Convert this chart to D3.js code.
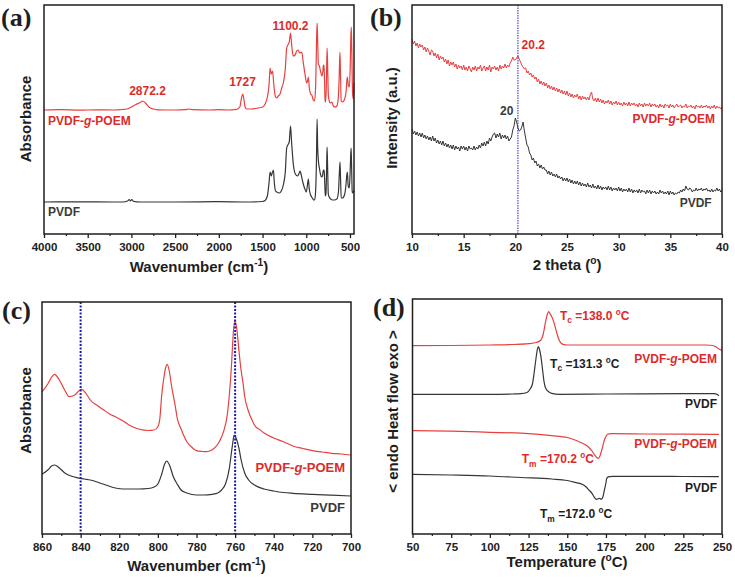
<!DOCTYPE html>
<html><head><meta charset="utf-8">
<script src="https://cdn.jsdelivr.net/npm/d3@7"></script>
<style>body{margin:0;background:#fff} svg{display:block}</style>
</head><body>
<svg id="c" width="735" height="579"></svg>
<script>
// ---------------- DATA ----------------
// (a) FTIR, full range: [wavenumber cm-1, absorbance (a.u., offset)]
const ftirPoem = [[4000,124],[3800,124.3],[3600,123.8],[3400,124.2],[3200,124],[3100,124.5],[3050,125],[3000,127],[2950,129.5],[2900,131.5],[2872,133],[2840,131],[2800,127],[2750,125],[2700,124.2],[2500,124],[2380,124.3],[2350,125],[2320,124.6],[2300,124.3],[2100,124],[2000,124.3],[1900,124],[1800,124.5],[1760,127],[1745,134],[1727,140],[1712,134],[1700,127],[1680,125],[1600,125.2],[1550,126],[1500,127],[1470,130],[1445,137],[1425,150],[1414,166],[1400,160],[1385,163],[1372,150],[1355,138],[1338,136],[1320,138],[1300,140],[1281,146],[1260,152],[1240,165],[1224,186],[1205,190],[1195,192],[1180,201],[1168,190],[1150,178],[1128,179],[1110,183],[1094,184],[1075,181],[1052,182],[1035,172],[1015,160],[995,151],[985,153],[976,157],[965,146],[950,140],[937,139],[919,134],[905,133],[892,150],[882,195],[876,211],[870,195],[862,170],[850,168],[835,162],[820,158],[810,163],[804,169],[798,168],[790,150],[785,132],[778,132],[770,150],[762,186],[756,170],[748,140],[740,134],[725,131],[708,132],[690,128],[670,127],[650,128],[635,135],[624,155],[615,182],[609,162],[600,133],[585,132],[565,134],[545,142],[535,154],[530,157],[518,148],[507,147],[498,165],[490,198],[485,207],[480,188],[470,140],[462,135],[454,151]];
const ftirPvdf = [[4000,32],[3600,32.2],[3200,32],[3100,32],[3045,33],[3025,34.5],[3012,33],[2995,34.5],[2975,32.5],[2900,32],[2500,32],[2000,32.3],[1700,32],[1500,32.5],[1470,33.5],[1445,38],[1425,52],[1414,62],[1400,58],[1390,61],[1376,64],[1366,52],[1352,43],[1338,42],[1310,41],[1285,43],[1260,50],[1240,62],[1224,86],[1205,90],[1195,92],[1180,108],[1168,92],[1147,69],[1125,60],[1100,58],[1085,60],[1071,63],[1060,60],[1040,52],[1020,46],[1000,42],[988,48],[976,55],[966,45],[950,39],[930,36],[915,34],[905,34],[895,40],[884,70],[876,115],[870,88],[862,74],[850,66],[838,60],[825,57],[815,58],[806,63],[800,64],[795,63],[789,52],[782,38],[775,40],[768,62],[762,87],[756,68],[748,40],[738,37],[720,35],[700,34],[680,34],[650,35],[632,42],[622,60],[614,72],[608,56],[600,36],[585,36],[560,40],[545,50],[535,60],[530,62],[520,48],[508,46],[500,58],[492,78],[487,86],[482,70],[474,42],[466,41],[458,43],[454,42]];
const ftirTicks = [4000,3500,3000,2500,2000,1500,1000,500];

// (b) XRD, 2 theta from 10 to 40 in 0.125 deg steps: intensity (a.u.)
const xrdStart = 10, xrdStep = 0.125;
const xrdPoem = [
  195,190,193,188,191,186,190,187, 189,184,187,182,186,183,179,184,
  183,178,181,176,180,174,178,175, 177,172,175,170,174,168,172,169,
  172,167,170,165,169,166,168,164, 169,164,167,163,168,165,162,167,
  164,168,163,167,165,169,163,166, 168,163,167,164,169,162,167,165,
  168,164,167,163,169,165,168,166, 170,166,169,167,171,173,177,174,
  174,176,178,175,172,169,167,165, 166,161,163,159,161,157,159,155,
  157,152,155,150,153,149,152,148, 151,146,149,145,148,144,147,143,
  146,142,145,141,144,140,143,139, 143,138,141,137,140,136,139,137,
  140,135,138,134,138,135,137,134, 137,134,139,142,135,133,136,132,
  136,132,135,131,134,130,133,131, 134,130,133,129,132,130,133,129,
  132,129,131,128,132,129,131,128, 132,128,131,129,131,128,130,127,
  131,128,130,127,131,128,130,128, 131,127,130,128,130,127,129,126,
  130,127,129,126,130,128,129,126, 130,127,129,126,128,130,127,128,
  129,126,128,127,130,126,128,127, 129,126,128,125,129,127,128,126,
  129,126,128,127,129,126,128,125, 128,126,129,125,128,126,127,125,
  127];
const xrdPvdf = [
  105,100,103,99,102,98,101,97, 101,96,99,95,98,94,97,93,
  98,93,96,91,94,90,93,89, 93,88,91,87,90,86,89,85,
  89,84,88,85,87,83,88,85, 88,84,87,83,88,85,86,84,
  88,84,87,85,89,86,91,88, 92,88,93,90,96,93,97,100,
  101,96,100,97,101,95,99,96, 99,95,98,93,95,97,104,108,
  116,112,106,103,104,107,112,103, 96,89,87,81,79,74,76,71,
  73,68,70,66,69,65,67,64, 64,60,63,59,62,58,60,57,
  60,56,58,55,57,53,56,53, 56,52,55,51,54,50,53,50,
  53,49,52,48,51,48,50,47, 51,47,49,46,50,46,48,45,
  49,45,48,44,47,45,47,44, 48,44,47,43,46,44,46,43,
  47,43,46,42,45,43,45,42, 46,42,45,41,44,42,44,41,
  45,41,44,42,43,40,44,41, 44,40,43,41,43,40,42,40,
  44,41,43,40,42,40,43,39, 43,40,42,39,41,40,42,41,
  44,42,45,43,48,45,44,46, 45,42,44,43,46,43,45,44,
  46,43,45,44,46,43,44,42, 45,42,44,43,46,43,45,42,
  44];
const xrdTicks = [10,15,20,25,30,35,40];
const xrdMarker = [20.25];

// (c) FTIR, 860-700 cm-1
const ftirZoomPoem = [[860,142],[857,150],[855,157],[853.5,159.7],[851,154],[848,143],[846,137.3],[843,139],[841,143],[839.5,144.7],[837,140],[835,134],[831,128],[828,124],[825,120],[822,117.3],[818,113],[815,109],[810,105],[805,103.5],[802,104],[800,107.3],[799,115],[798,139],[797,155],[796,166],[795.2,169.7],[794,162],[793,149],[791,128],[790,116],[788,105],[785,92.3],[782,86],[780,83.3],[777,82.5],[775,82.3],[772,84],[770,87.3],[768,93],[766,102.3],[764,120],[763,139],[762,165],[761,199],[760.2,214],[759,203],[758,183],[757,165],[756,152.3],[755,137],[753,122.3],[751,113],[750,109],[747,104],[745,101],[740,96],[735,92.3],[730,88],[725,85.5],[720,83.3],[715,82],[710,80.7],[705,80],[700,79]];
const ftirZoomPvdf = [[860,59.7],[857,64],[855,68],[853.5,69],[851,66],[848,60.7],[845,58],[842,56.3],[838,55],[835,54],[830,51],[827,49],[822,46],[818,45],[810,45],[805,45.5],[802,47],[800,50],[798,60],[796.5,70],[795.5,73],[794,69],[792,57.3],[790,50],[788,44],[785,41],[780,39],[776,39],[772,39.7],[769,41],[767,44],[765,50],[763,65.7],[762,80],[761,94],[760.5,99],[759.5,96],[758,85.7],[757,75],[755,60.7],[753,54],[750,49],[745,45],[740,43],[735,41.5],[730,40.7],[720,39.7],[710,38.8],[700,38]];
const ftirZoomTicks = [860,840,820,800,780,760,740,720,700];
const ftirZoomMarkers = [840,760];

// (d) DSC: [temperature C, heat flow (a.u., offset)]
const dscCoolPoem = [[50,188.3],[75,188.5],[100,189],[115,189.5],[125,190.3],[130,191.5],[133,194],[134.5,200],[136,212.3],[137,219],[138,222.3],[139,220],[140,217.3],[141.5,211],[143,202.3],[144.5,195],[146,190.7],[148,189.3],[150,189],[175,189],[200,189],[225,189],[240,189],[244,188.5],[246,187.3],[248,185],[250,183.7]];
const dscCoolPvdf = [[50,139.7],[75,139.7],[100,139.7],[115,140],[120,140.3],[124,141.5],[126,145],[127.5,150],[128.5,160],[129.5,172],[130.5,183],[131.3,187.3],[132,185],[133,177.3],[134,165],[135,152.3],[136,146],[138,142.3],[140,140.7],[145,139.7],[175,140],[200,140.2],[225,140.3],[240,140.3],[245,140.3],[247,139.5],[248,138.3]];
const dscHeatPoem = [[50,103.3],[75,102.8],[100,101.7],[120,100.8],[140,98.3],[150,96.5],[155,94],[158,92],[162,89],[164,86.5],[166,83],[168,78.3],[169,76.5],[170,75.7],[171,77.5],[172,82.3],[173,88],[174,94],[175,97.5],[176,99.7],[178,100.3],[180,100.3],[200,100],[225,99.8],[248,99.7]];
const dscHeatPvdf = [[50,59.7],[75,59],[100,58],[120,56.5],[140,55],[150,53.5],[155,51.7],[160,49.5],[162,47.3],[164,44],[166,40.7],[167,38],[168,35.7],[169,34.7],[170,35.3],[171,35.7],[172,34.7],[173,37],[174,44],[175,51],[175.5,55.7],[177,57.3],[180,57.7],[200,57.7],[225,57.5],[248,57.3]];
const dscTicks = [50,75,100,125,150,175,200,225,250];

// ---------------- DRAWING ----------------
const svg = d3.select('#c');
const FONT = "'Liberation Sans', Arial, Helvetica, sans-serif";
const SERIF = "'Liberation Serif', 'Times New Roman', serif";
const RED = '#e8403f', RED_T = '#dc2b2b', BLK = '#363636', BLK_T = '#3a3a3a', AX = '#1e1e1e';

function mids(t) { const m = []; for (let i = 0; i < t.length - 1; i++) m.push((t[i] + t[i+1]) / 2); return m; }

function panel(o) {
  const x = d3.scaleLinear().domain(o.xd).range([o.l, o.r]);
  const y = d3.scaleLinear().domain(o.yd).range([o.b, o.t]);
  const g = svg.append('g');
  const ax = g.append('g').attr('transform', `translate(0,${o.b})`)
    .call(d3.axisBottom(x).tickValues(o.ticks).tickSize(4).tickFormat(d3.format('d')));
  ax.select('.domain').remove();
  ax.selectAll('line').attr('stroke', AX).attr('stroke-width', 1.3);
  ax.selectAll('text').attr('y', 17).attr('dy', 0).attr('font-family', FONT)
    .attr('font-weight', 'bold').attr('font-size', 11.5).attr('fill', '#222');
  const mx = g.append('g').attr('transform', `translate(0,${o.b})`)
    .call(d3.axisBottom(x).tickValues(mids(o.ticks)).tickSize(2).tickFormat(''));
  mx.select('.domain').remove();
  mx.selectAll('line').attr('stroke', AX).attr('stroke-width', 1.2);
  const plot = g.append('g');
  g.append('rect').attr('x', o.l).attr('y', o.t).attr('width', o.r - o.l).attr('height', o.b - o.t)
    .attr('fill', 'none').attr('stroke', AX).attr('stroke-width', 1.5);
  return { g, plot, x, y };
}

function rich(g, x, y, segs, o) {
  const t = g.append('text').attr('x', x).attr('y', y).attr('font-family', o.family || FONT)
    .attr('font-weight', 'bold').attr('font-size', o.size).attr('fill', o.fill || '#1e1e1e')
    .attr('text-anchor', o.anchor || 'start');
  if (o.rotate) t.attr('transform', `rotate(-90 ${x} ${y})`);
  let shift = 0;
  segs.forEach(s => {
    const txt = typeof s === 'string' ? s : s[0];
    const kind = typeof s === 'string' ? null : s[1];
    const ts = t.append('tspan').text(txt);
    let target = 0;
    if (kind === 'sup') { ts.attr('font-size', o.size * 0.68); target = -o.size * 0.42; }
    else if (kind === 'sub') { ts.attr('font-size', o.size * 0.7); target = o.size * 0.28; }
    else if (kind === 'it') { ts.attr('font-style', 'italic'); }
    const dy = target - shift;
    if (dy) ts.attr('dy', dy);
    shift = target;
  });
  return t;
}

function curve(p, data, color, lin, w) {
  const line = d3.line().x(d => p.x(d[0])).y(d => p.y(d[1]))
    .curve(lin ? d3.curveLinear : d3.curveMonotoneX);
  p.plot.append('path').datum(data).attr('d', line).attr('fill', 'none')
    .attr('stroke', color).attr('stroke-width', w || 1.2).attr('stroke-linejoin', 'round');
}

const POEM = ['PVDF-', ['g', 'it'], '-POEM'];

// ----- (a)
const A = panel({ l: 44, r: 354, t: 5, b: 234, xd: [4000, 454], yd: [0, 229], ticks: ftirTicks });
curve(A, ftirPoem, RED);
curve(A, ftirPvdf, BLK);
rich(A.g, A.x(2816), A.y(139), ['2872.2'], { size: 12, fill: RED_T, anchor: 'middle' });
rich(A.g, A.x(1729), A.y(148), ['1727'], { size: 12, fill: RED_T, anchor: 'middle' });
rich(A.g, A.x(1180), A.y(204), ['1100.2'], { size: 12, fill: RED_T, anchor: 'middle' });
rich(A.g, A.x(3954), A.y(109), POEM, { size: 12, fill: RED_T });
rich(A.g, A.x(3954), A.y(18), ['PVDF'], { size: 12, fill: BLK_T });
rich(svg, 199, 272, ['Wavenumber (cm', ['-1', 'sup'], ')'], { size: 15, anchor: 'middle' });
rich(svg, 31, 119, ['Absorbance'], { size: 15, anchor: 'middle', rotate: true });
rich(svg, 1, 26, ['(a)'], { size: 26, family: SERIF });

// ----- (b)
const B = panel({ l: 412, r: 722, t: 5, b: 234, xd: [10, 40], yd: [0, 229], ticks: xrdTicks });
const toPts = arr => arr.map((v, i) => [xrdStart + i * xrdStep, v]);
curve(B, toPts(xrdPoem), RED, true, 1);
curve(B, toPts(xrdPvdf), BLK, true, 1);
B.plot.selectAll('line.mk').data(xrdMarker).join('line').attr('class', 'mk')
  .attr('x1', d => B.x(d)).attr('x2', d => B.x(d)).attr('y1', 5).attr('y2', 234)
  .attr('stroke', '#3a3ac8').attr('stroke-width', 1.1).attr('stroke-dasharray', '1.5,1');
rich(B.g, B.x(20.6), B.y(185), ['20.2'], { size: 12, fill: RED_T });
rich(B.g, B.x(18.52), B.y(119), ['20'], { size: 12, fill: BLK_T });
rich(B.g, B.x(39.33), B.y(111.3), POEM, { size: 12, fill: RED_T, anchor: 'end' });
rich(B.g, B.x(39.0), B.y(27), ['PVDF'], { size: 12, fill: BLK_T, anchor: 'end' });
rich(svg, 567, 270, ['2 theta (', ['o', 'sup'], ')'], { size: 15, anchor: 'middle' });
rich(svg, 397, 118, ['Intensity (a.u.)'], { size: 15, anchor: 'middle', rotate: true });
rich(svg, 370, 26, ['(b)'], { size: 26, family: SERIF });

// ----- (c)
const C = panel({ l: 42, r: 351, t: 302, b: 534, xd: [860, 700], yd: [0, 232], ticks: ftirZoomTicks });
curve(C, ftirZoomPoem, RED);
curve(C, ftirZoomPvdf, BLK);
C.plot.selectAll('line.mk').data(ftirZoomMarkers).join('line').attr('class', 'mk')
  .attr('x1', d => C.x(d)).attr('x2', d => C.x(d)).attr('y1', 302).attr('y2', 534)
  .attr('stroke', '#1c1ca0').attr('stroke-width', 2).attr('stroke-dasharray', '2,1.5');
rich(C.g, C.x(703.1), C.y(62.3), POEM, { size: 13, fill: RED_T, anchor: 'end' });
rich(C.g, C.x(703.1), C.y(22.3), ['PVDF'], { size: 13, fill: BLK_T, anchor: 'end' });
rich(svg, 196.5, 571, ['Wavenumber (cm', ['-1', 'sup'], ')'], { size: 15, anchor: 'middle' });
rich(svg, 31, 410.5, ['Absorbance'], { size: 15, anchor: 'middle', rotate: true });
rich(svg, 2, 319, ['(c)'], { size: 26, family: SERIF });

// ----- (d)
const D = panel({ l: 412.5, r: 722, t: 299, b: 534, xd: [50, 250], yd: [0, 235], ticks: dscTicks });
curve(D, dscCoolPoem, RED);
curve(D, dscCoolPvdf, BLK);
curve(D, dscHeatPoem, RED);
curve(D, dscHeatPvdf, BLK);
rich(D.g, D.x(145.3), D.y(214), ['T', ['c', 'sub'], ' =138.0 ', ['o', 'sup'], 'C'], { size: 12, fill: RED_T });
rich(D.g, D.x(246.8), D.y(171), POEM, { size: 12, fill: RED_T, anchor: 'end' });
rich(D.g, D.x(138.9), D.y(166), ['T', ['c', 'sub'], ' =131.3 ', ['o', 'sup'], 'C'], { size: 12, fill: '#1e1e1e' });
rich(D.g, D.x(246.8), D.y(126.3), ['PVDF'], { size: 12, fill: '#1e1e1e', anchor: 'end' });
rich(D.g, D.x(246.8), D.y(85.7), POEM, { size: 12, fill: RED_T, anchor: 'end' });
rich(D.g, D.x(120.6), D.y(70.7), ['T', ['m', 'sub'], ' =170.2 ', ['o', 'sup'], 'C'], { size: 12, fill: RED_T });
rich(D.g, D.x(246.8), D.y(42.3), ['PVDF'], { size: 12, fill: '#1e1e1e', anchor: 'end' });
rich(D.g, D.x(132.4), D.y(15.7), ['T', ['m', 'sub'], ' =172.0 ', ['o', 'sup'], 'C'], { size: 12, fill: '#1e1e1e' });
rich(svg, 567, 567, ['Temperature (', ['o', 'sup'], 'C)'], { size: 15, anchor: 'middle' });
rich(svg, 397.5, 411.5, ['< endo Heat flow exo >'], { size: 15, anchor: 'middle', rotate: true });
rich(svg, 373, 316, ['(d)'], { size: 26, family: SERIF });
</script></body></html>
